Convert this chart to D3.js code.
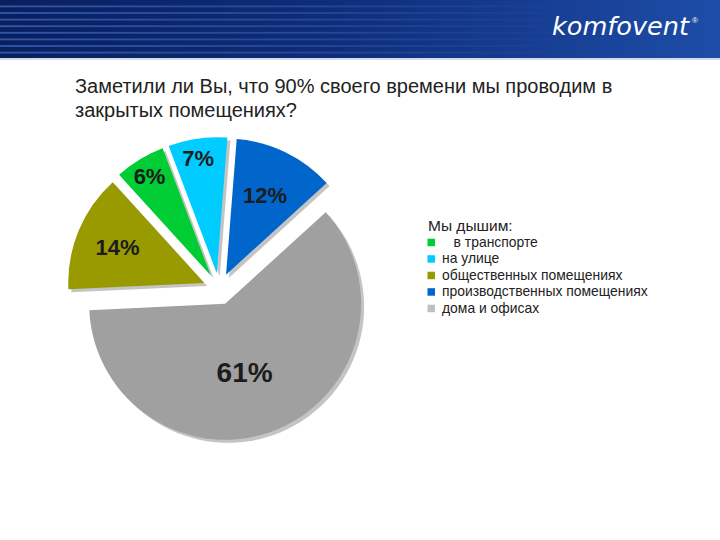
<!DOCTYPE html>
<html><head><meta charset="utf-8">
<script src="https://cdn.jsdelivr.net/npm/d3@7"></script>
<style>body{margin:0;background:#fff}svg{display:block}</style>
</head><body><svg id="c" width="720" height="540"></svg>
<script>
// ---- data ----
const categories = ["   в транспорте", "на улице", "общественных помещениях", "производственных помещениях", "дома и офисах"];
const values = [6, 7, 14, 12, 61];
const sliceColors = ["#00cc33", "#00ccff", "#999900", "#0066cc", "#a0a0a0"];
const legendColors = ["#00cc33", "#00ccff", "#999900", "#0066cc", "#c0c0c0"];
const pieOrder = [3, 4, 2, 0, 1]; // clockwise from top
const titleLines = ["Заметили ли Вы, что 90% своего времени мы проводим в", "закрытых помещениях?"];
const legendTitle = "Мы дышим:";
const brand = "komfovent";

// ---- layout/style ----
const W = 720, H = 540;
const cx = 219, cy = 289, R = 136, explode = 16;
const startDeg = 4.5;
const labelPos = {3: [0.65, 0], 4: [0.52, 6.5], 2: [0.69, 0], 0: [0.86, 0], 1: [0.86, -1]};

const svg = d3.select("#c");
const defs = svg.append("defs");

// banner
const g1 = defs.append("linearGradient").attr("id", "bg").attr("x1", 0).attr("x2", 1).attr("y1", 0).attr("y2", 0);
g1.append("stop").attr("offset", 0).attr("stop-color", "#0a1f5e");
g1.append("stop").attr("offset", 0.45).attr("stop-color", "#0f2c78");
g1.append("stop").attr("offset", 1).attr("stop-color", "#1d4da8");
const g2 = defs.append("linearGradient").attr("id", "st").attr("x1", 0).attr("x2", 1).attr("y1", 0).attr("y2", 0);
g2.append("stop").attr("offset", 0).attr("stop-color", "#3563b8").attr("stop-opacity", 0.85);
g2.append("stop").attr("offset", 0.45).attr("stop-color", "#3563b8").attr("stop-opacity", 0.5);
g2.append("stop").attr("offset", 0.8).attr("stop-color", "#3563b8").attr("stop-opacity", 0);

svg.append("rect").attr("x", 0).attr("y", 0).attr("width", W).attr("height", 58).attr("fill", "url(#bg)");
const stripeYs = d3.range(8).map(i => 5.5 + i * 6.6);
svg.selectAll("rect.stripe").data(stripeYs).join("rect").attr("class", "stripe")
  .attr("x", 0).attr("y", d => d).attr("width", W).attr("height", 1.8).attr("fill", "url(#st)");
svg.append("rect").attr("x", 0).attr("y", 58).attr("width", W).attr("height", 2).attr("fill", "#d4dbe8");

svg.append("text").attr("x", 552).attr("y", 34.5).text(brand)
  .attr("font-family", "DejaVu Sans, sans-serif").attr("font-style", "italic")
  .attr("font-size", 24).attr("fill", "#fff")
  .attr("textLength", 137).attr("lengthAdjust", "spacingAndGlyphs");
svg.append("text").attr("x", 692).attr("y", 23).text("®")
  .attr("font-family", "Liberation Sans, Arial, sans-serif").attr("font-size", 8).attr("fill", "#fff");

// title
svg.append("g").selectAll("text").data(titleLines).join("text")
  .attr("x", 75).attr("y", (d, i) => 93 + i * 23.5)
  .attr("font-family", "Liberation Sans, Arial, sans-serif").attr("font-size", 20).attr("fill", "#222")
  .text(d => d);

// pie
const a0 = startDeg * Math.PI / 180;
const pie = d3.pie().value(i => values[i]).sort(null).startAngle(a0).endAngle(a0 + 2 * Math.PI);
const arcs = pie(pieOrder);
const arc = d3.arc().innerRadius(0).outerRadius(R);
const off = d => {
  const m = (d.startAngle + d.endAngle) / 2;
  return [cx + explode * Math.sin(m), cy - explode * Math.cos(m)];
};
const pg = svg.append("g");
pg.selectAll("path.sh").data(arcs).join("path").attr("class", "sh")
  .attr("transform", d => { const o = off(d); return `translate(${o[0] + 3},${o[1] + 3})`; })
  .attr("d", arc).attr("fill", "#c4c4c4");
pg.selectAll("path.sl").data(arcs).join("path").attr("class", "sl")
  .attr("transform", d => { const o = off(d); return `translate(${o[0]},${o[1]})`; })
  .attr("d", arc).attr("fill", d => sliceColors[d.data]);
pg.selectAll("text").data(arcs).join("text")
  .attr("transform", d => {
    const o = off(d), lp = labelPos[d.data];
    const m = (d.startAngle + d.endAngle) / 2 + lp[1] * Math.PI / 180, r = lp[0] * R;
    return `translate(${o[0] + r * Math.sin(m)},${o[1] - r * Math.cos(m)})`;
  })
  .attr("text-anchor", "middle").attr("dy", "0.36em")
  .attr("font-family", "Liberation Sans, Arial, sans-serif").attr("font-weight", "bold")
  .attr("font-size", d => values[d.data] > 50 ? 28 : 22).attr("fill", "#1c1c1c")
  .text(d => values[d.data] + "%");

// legend
const lg = svg.append("g");
lg.append("text").attr("x", 428).attr("y", 231).text(legendTitle)
  .attr("font-family", "Liberation Sans, Arial, sans-serif").attr("font-size", 15.5).attr("fill", "#222");
const items = lg.selectAll("g.it").data(categories).join("g").attr("class", "it")
  .attr("transform", (d, i) => `translate(0,${246.7 + i * 16.5})`);
items.append("rect").attr("x", 427.5).attr("y", -8).attr("width", 7.5).attr("height", 7.5)
  .attr("fill", (d, i) => legendColors[i]);
items.append("text").attr("x", 442).attr("y", 0).text(d => d)
  .style("white-space", "pre")
  .attr("font-family", "Liberation Sans, Arial, sans-serif").attr("font-size", 13.9).attr("fill", "#222");
</script></body></html>
